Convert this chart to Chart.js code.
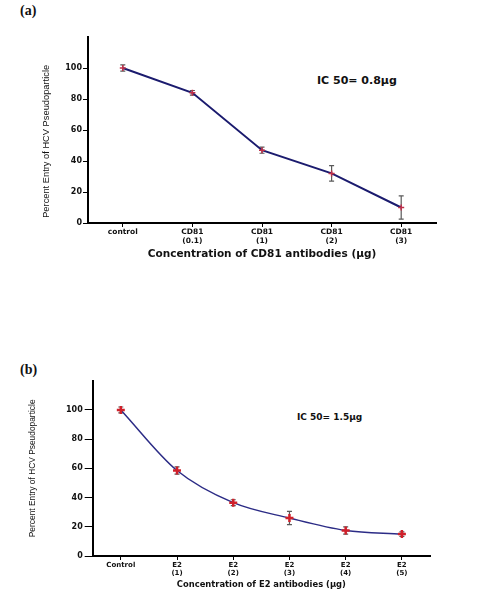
<!DOCTYPE html>
<html>
<head>
<meta charset="utf-8">
<script src="https://cdn.jsdelivr.net/npm/chart.js@4.4.1/dist/chart.umd.min.js"></script>
<style>
  html, body { margin: 0; padding: 0; background: #fff; }
  body { width: 489px; height: 593px; position: relative; overflow: hidden; }
  .wrap { position: absolute; left: 0; width: 489px; }
  .panel { position: absolute; font-family: "Liberation Serif", serif; font-weight: bold; font-size: 14px; line-height: 16px; color: #111; }
  .ic { position: absolute; font-family: "DejaVu Sans", sans-serif; font-weight: bold; color: #111; white-space: nowrap; }
</style>
</head>
<body>
<div class="panel" style="left:20px; top:3px;">(a)</div>
<div class="ic" style="left:317px; top:74px; font-size:11px; line-height:14px;">IC 50= 0.8µg</div>
<div class="wrap" style="top:0; height:265px;"><canvas id="chartA" width="489" height="265"></canvas></div>

<div class="panel" style="left:20px; top:362px;">(b)</div>
<div class="ic" style="left:297px; top:411px; font-size:9px; line-height:12px;">IC 50= 1.5µg</div>
<div class="wrap" style="top:300px; height:293px;"><canvas id="chartB" width="489" height="293"></canvas></div>

<script>
// ---- data (a) ----
const categoriesA = ['control', ['CD81', '(0.1)'], ['CD81', '(1)'], ['CD81', '(2)'], ['CD81', '(3)']];
const valuesA = [100, 84, 47, 32, 10];
const errorsA = [2, 1.5, 2, 5, 7.5];

// ---- data (b) ----
const categoriesB = ['Control', ['E2', '(1)'], ['E2', '(2)'], ['E2', '(3)'], ['E2', '(4)'], ['E2', '(5)']];
const valuesB = [100, 58.5, 36.5, 26, 17.5, 15];
const errorsB = [2, 2.5, 2, 4.5, 2.5, 1.5];

const yTickValues = [0, 20, 40, 60, 80, 100];
const yMax = 120;

const errorBarPlugin = {
  id: 'errorBars',
  beforeDatasetsDraw(chart, args, opts) {
    const ctx = chart.ctx;
    const xs = chart.scales.x, ys = chart.scales.y;
    const vals = opts.values, errs = opts.errors;
    ctx.save();
    ctx.strokeStyle = opts.color;
    ctx.lineWidth = opts.width;
    for (let i = 0; i < vals.length; i++) {
      const x = xs.getPixelForValue(i);
      const yTop = ys.getPixelForValue(vals[i] + errs[i]);
      const yBot = ys.getPixelForValue(vals[i] - errs[i]);
      ctx.beginPath();
      ctx.moveTo(x, yTop); ctx.lineTo(x, yBot);
      ctx.moveTo(x - opts.cap, yTop); ctx.lineTo(x + opts.cap, yTop);
      ctx.moveTo(x - opts.cap, yBot); ctx.lineTo(x + opts.cap, yBot);
      ctx.stroke();
    }
    ctx.restore();
  }
};

function makeChart(id, cfg) {
  return new Chart(document.getElementById(id), {
    type: 'line',
    data: {
      labels: cfg.labels,
      datasets: [{
        data: cfg.values,
        borderColor: cfg.lineColor,
        borderWidth: cfg.lineWidth,
        cubicInterpolationMode: cfg.smooth ? 'monotone' : 'default',
        tension: 0,
        pointStyle: 'cross',
        pointRadius: cfg.pointRadius,
        pointBorderWidth: cfg.pointBorderWidth,
        pointBorderColor: cfg.pointColor,
        pointBackgroundColor: cfg.pointColor,
        fill: false
      }]
    },
    options: {
      responsive: false,
      animation: false,
      devicePixelRatio: 1,
      layout: { padding: cfg.padding },
      plugins: {
        legend: { display: false },
        tooltip: { enabled: false },
        errorBars: { values: cfg.values, errors: cfg.errors, color: '#5a5a5a', width: 1.2, cap: 2.5 }
      },
      scales: {
        x: {
          type: 'category',
          offset: true,
          afterFit(scale) { scale.height = cfg.xHeight; },
          border: { display: true, color: '#000', width: 2 },
          grid: { display: true, drawOnChartArea: false, drawTicks: true, tickLength: cfg.xTickLength, color: '#000', tickColor: '#000', tickWidth: 1 },
          ticks: {
            color: '#111',
            autoSkip: false,
            maxRotation: 0,
            padding: 1,
            font: { family: 'DejaVu Sans', weight: 'bold', size: cfg.xTickSize, lineHeight: 1.15 }
          },
          title: {
            display: true,
            text: cfg.xTitle,
            color: '#111',
            font: { family: 'DejaVu Sans', weight: 'bold', size: cfg.xTitleSize, lineHeight: 1.2 },
            padding: { top: 0, bottom: cfg.xTitlePad }
          }
        },
        y: {
          min: 0,
          max: yMax,
          afterFit(scale) { scale.width = cfg.yWidth; },
          afterBuildTicks(scale) { scale.ticks = yTickValues.concat([yMax]).map(v => ({ value: v })); },
          border: { display: true, color: '#000', width: 2 },
          grid: {
            display: true, drawOnChartArea: false, drawTicks: true, tickLength: cfg.yTickLength,
            color: '#000', tickWidth: 1,
            tickColor: (c) => (c.tick && c.tick.value > 100 ? 'rgba(0,0,0,0)' : '#000')
          },
          ticks: {
            color: '#111',
            padding: cfg.yTickPad,
            font: { family: 'DejaVu Sans', weight: 'bold', size: 8 },
            callback: (v) => (v > 100 ? '' : v)
          },
          title: {
            display: true,
            text: cfg.yTitle,
            align: cfg.yTitleAlign,
            color: '#111',
            font: { family: 'Liberation Sans', size: cfg.yTitleSize, lineHeight: 1.2 },
            padding: { top: cfg.yTitlePad, bottom: 0 }
          }
        }
      }
    },
    plugins: [errorBarPlugin]
  });
}

makeChart('chartA', {
  labels: categoriesA,
  values: valuesA,
  errors: errorsA,
  lineColor: '#1b1b6e',
  lineWidth: 2,
  smooth: false,
  pointRadius: 3,
  pointBorderWidth: 1.5,
  pointColor: '#c0304a',
  padding: { left: 0, right: 53, top: 37, bottom: 0 },
  xHeight: 42,
  xTickLength: 4,
  xTickSize: 7.5,
  xTitle: 'Concentration of CD81 antibodies (µg)',
  xTitleSize: 10.5,
  xTitlePad: 4.7,
  yWidth: 88,
  yTickLength: 5,
  yTickPad: 1,
  yTitle: '  Percent Entry of HCV Pseudoparticle',
  yTitleAlign: 'start',
  yTitleSize: 9.3,
  yTitlePad: 41.1
});

makeChart('chartB', {
  labels: categoriesB,
  values: valuesB,
  errors: errorsB,
  lineColor: '#2c2c86',
  lineWidth: 1.5,
  smooth: true,
  pointRadius: 4,
  pointBorderWidth: 2.5,
  pointColor: '#d0202a',
  padding: { left: 0, right: 59, top: 80.7, bottom: 0 },
  xHeight: 37,
  xTickLength: 4,
  xTickSize: 7,
  xTitle: 'Concentration of E2 antibodies (µg)',
  xTitleSize: 8.4,
  xTitlePad: 3,
  yWidth: 92.7,
  yTickLength: 8,
  yTickPad: 2,
  yTitle: 'Percent Entry of HCV Pseudoparticle',
  yTitleAlign: 'center',
  yTitleSize: 8.4,
  yTitlePad: 28
});
</script>
</body>
</html>
